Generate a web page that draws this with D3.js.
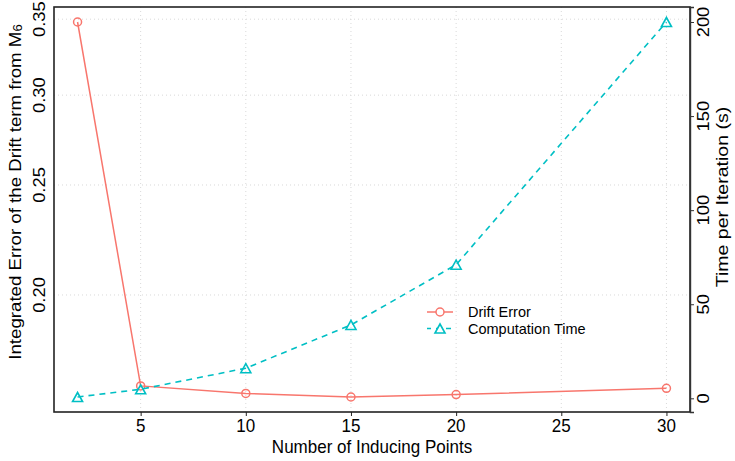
<!DOCTYPE html>
<html>
<head>
<meta charset="utf-8">
<script src="https://cdn.jsdelivr.net/npm/d3@7"></script>
<style>
  body { margin: 0; background: #fff; }
  text { font-family: "Liberation Sans", Arial, Helvetica, sans-serif; fill: #000; }
</style>
</head>
<body>
<div id="chart"></div>
<script>
// data
var inducingPoints = [2, 5, 10, 15, 20, 30];
var driftError = [0.348, 0.1663, 0.1638, 0.1626, 0.1634, 0.1655];
var compTime = [0.7, 4.8, 16, 39, 71, 200];
var xTicks = [5, 10, 15, 20, 25, 30];
var leftTicks = [0.20, 0.25, 0.30, 0.35];
var rightTicks = [0, 50, 100, 150, 200];
var seriesNames = ["Drift Error", "Computation Time"];

var W = 735, H = 461;
var margin = {top: 7, right: 45, bottom: 49, left: 54},
    width = W - margin.left - margin.right,
    height = H - margin.top - margin.bottom;

var red = "#F8766D", teal = "#00BFC4";
// the source figure is slightly stretched vertically
var vStretch = 1.08;

var svg = d3.select("#chart").append("svg")
  .attr("width", W)
  .attr("height", H);
var g = svg.append("g")
  .attr("transform", "translate(" + margin.left + "," + margin.top + ")");

// R style 4% padding
function padded(lo, hi) { var r = hi - lo; return [lo - 0.04 * r, hi + 0.04 * r]; }

var xDom = padded(d3.min(inducingPoints), d3.max(inducingPoints));
var x = d3.scaleLinear().domain(xDom).range([0, width]);

var lnDom = padded(Math.log(d3.min(driftError)), Math.log(d3.max(driftError)));
var yL = d3.scaleLog().domain([Math.exp(lnDom[0]), Math.exp(lnDom[1])]).range([height, 0]);

var yR = d3.scaleLinear().domain(padded(d3.min(compTime), d3.max(compTime))).range([height, 0]);

// grid
g.selectAll(".vgrid").data(xTicks).enter().append("line")
  .attr("x1", function(d) { return x(d); }).attr("x2", function(d) { return x(d); })
  .attr("y1", 0).attr("y2", height)
  .attr("stroke", "#d9d9d9").attr("stroke-width", 1).attr("stroke-dasharray", "1,3");
g.selectAll(".hgrid").data(leftTicks).enter().append("line")
  .attr("x1", 0).attr("x2", width)
  .attr("y1", function(d) { return yL(d); }).attr("y2", function(d) { return yL(d); })
  .attr("stroke", "#d9d9d9").attr("stroke-width", 1).attr("stroke-dasharray", "1,3");

// box
g.append("rect")
  .attr("x", 0).attr("y", 0).attr("width", width).attr("height", height)
  .attr("fill", "none").attr("stroke", "#222").attr("stroke-width", 1.6);

// bottom axis
var xAxis = g.append("g")
  .attr("transform", "translate(0," + height + ")")
  .call(d3.axisBottom(x).tickValues(xTicks).tickSize(4).tickFormat(""));
xAxis.select(".domain").remove();
xAxis.selectAll("line").attr("stroke", "#222");
g.selectAll(".xtick").data(xTicks).enter().append("text")
  .attr("transform", function(d) { return "translate(" + x(d) + "," + (height + 20) + ") scale(1," + vStretch + ")"; })
  .attr("text-anchor", "middle")
  .style("font-size", "17px")
  .text(function(d) { return d; });

// left axis labels (rotated, no ticks)
g.selectAll(".ltick").data(leftTicks).enter().append("text")
  .attr("transform", function(d) { return "translate(-15," + yL(d) + ") rotate(-90) scale(" + vStretch + ",1)"; })
  .attr("text-anchor", "middle")
  .attr("dominant-baseline", "central")
  .style("font-size", "17px")
  .text(function(d) { return d3.format(".2f")(d); });

// right axis
var rAxis = g.append("g")
  .attr("transform", "translate(" + width + ",0)")
  .call(d3.axisRight(yR).tickValues(rightTicks).tickSize(4).tickFormat(""));
rAxis.select(".domain").attr("stroke", "#333").attr("stroke-width", 1.4);
rAxis.selectAll("line").attr("stroke", "#333");
g.selectAll(".rtick").data(rightTicks).enter().append("text")
  .attr("transform", function(d) { return "translate(" + (width + 13) + "," + yR(d) + ") rotate(-90) scale(" + vStretch + ",1)"; })
  .attr("text-anchor", "middle")
  .attr("dominant-baseline", "central")
  .style("font-size", "17px")
  .text(function(d) { return d; });

// axis titles
svg.append("text")
  .attr("transform", "translate(" + (margin.left + width / 2) + ",453) scale(1," + vStretch + ")")
  .attr("text-anchor", "middle")
  .style("font-size", "17px")
  .text("Number of Inducing Points");

var lt = svg.append("text")
  .attr("transform", "translate(15,192) rotate(-90) scale(1.1,1)")
  .attr("text-anchor", "middle")
  .attr("dominant-baseline", "central")
  .style("font-size", "17px");
lt.append("tspan").text("Integrated Error of the Drift term from M");
lt.append("tspan").attr("baseline-shift", "-25%").style("font-size", "12px").text("6");

svg.append("text")
  .attr("transform", "translate(722,197) rotate(-90) scale(1.15,1)")
  .attr("text-anchor", "middle")
  .attr("dominant-baseline", "central")
  .style("font-size", "17px")
  .text("Time per Iteration (s)");

// series
var driftData = inducingPoints.map(function(p, i) { return {x: p, y: driftError[i]}; });
var timeData = inducingPoints.map(function(p, i) { return {x: p, y: compTime[i]}; });

g.append("path").datum(driftData)
  .attr("fill", "none").attr("stroke", red).attr("stroke-width", 1.5)
  .attr("d", d3.line().x(function(d) { return x(d.x); }).y(function(d) { return yL(d.y); }));
g.selectAll(".dpt").data(driftData).enter().append("circle")
  .attr("cx", function(d) { return x(d.x); })
  .attr("cy", function(d) { return yL(d.y); })
  .attr("r", 4)
  .attr("fill", "none").attr("stroke", red).attr("stroke-width", 1.5);

g.append("path").datum(timeData)
  .attr("fill", "none").attr("stroke", teal).attr("stroke-width", 1.6)
  .attr("stroke-dasharray", "6,5")
  .attr("d", d3.line().x(function(d) { return x(d.x); }).y(function(d) { return yR(d.y); }));

function tri(cx, cy, s) {
  var h = s * 0.9;
  return "M" + (cx - s / 2) + "," + (cy + h / 2) + "L" + (cx + s / 2) + "," + (cy + h / 2) +
    "L" + cx + "," + (cy - h / 2) + "Z";
}
g.selectAll(".tpt").data(timeData).enter().append("path")
  .attr("d", function(d) { return tri(x(d.x), yR(d.y), 10); })
  .attr("fill", "none").attr("stroke", teal).attr("stroke-width", 1.6);

// legend
var legend = svg.append("g").attr("transform", "translate(427,312)");
var leg = legend.selectAll("g").data(seriesNames).enter().append("g")
  .attr("transform", function(d, i) { return "translate(0," + (i * 16.5) + ")"; });
leg.append("line")
  .attr("x1", 0).attr("x2", 26).attr("y1", 0).attr("y2", 0)
  .attr("stroke", function(d, i) { return i === 0 ? red : teal; })
  .attr("stroke-width", 1.5)
  .attr("stroke-dasharray", function(d, i) { return i === 0 ? null : "5,5"; })
  .attr("stroke-dashoffset", function(d, i) { return i === 0 ? 0 : 1; });
leg.each(function(d, i) {
  var s = d3.select(this);
  if (i === 0) {
    s.append("circle").attr("cx", 13).attr("cy", 0).attr("r", 4)
      .attr("fill", "#fff").attr("stroke", red).attr("stroke-width", 1.5);
  } else {
    s.append("path").attr("d", tri(13, 0, 10))
      .attr("fill", "#fff").attr("stroke", teal).attr("stroke-width", 1.6);
  }
});
leg.append("text")
  .attr("x", 41).attr("y", 0)
  .attr("dominant-baseline", "central")
  .style("font-size", "14.5px")
  .text(function(d) { return d; });
</script>
</body>
</html>
